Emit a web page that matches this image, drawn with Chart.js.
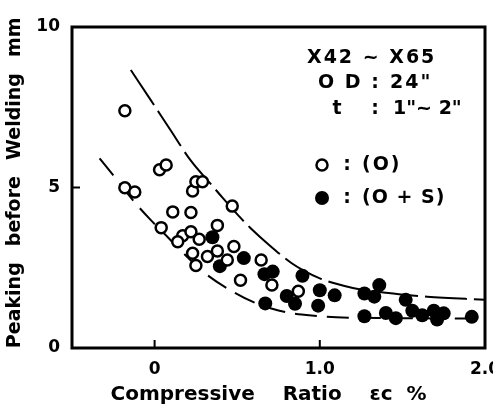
<!DOCTYPE html>
<html lang="en">
<head>
    <meta charset="UTF-8">
    <title>Peaking before Welding vs Compressive Ratio</title>
    <script src="https://cdn.jsdelivr.net/npm/chart.js"></script>
    <style>
        html, body {
            margin: 0;
            padding: 0;
            background: #fff;
            overflow: hidden;
        }
        .chart-box {
            width: 493px;
            height: 417px;
            position: relative;
        }
    </style>
</head>
<body>
    <div class="chart-box">
        <canvas id="peakChart"></canvas>
    </div>

    <script>
        // values
        const openX = [-0.18, -0.18, -0.12, 0.03, 0.07, 0.04, 0.11, 0.22, 0.23, 0.25, 0.29, 0.47, 0.38,
                       0.17, 0.22, 0.27, 0.14, 0.23, 0.32, 0.38, 0.44, 0.48, 0.25, 0.52, 0.645, 0.71, 0.87];
        const openY = [7.39, 4.99, 4.86, 5.55, 5.70, 3.75, 4.24, 4.22, 4.89, 5.18, 5.18, 4.42, 3.82,
                       3.50, 3.62, 3.39, 3.31, 2.95, 2.85, 3.02, 2.74, 3.16, 2.57, 2.11, 2.74, 1.96, 1.77];

        const filledX = [0.35, 0.395, 0.54, 0.665, 0.715, 0.67, 0.80, 0.85, 0.895, 1.00, 1.09, 0.99,
                         1.27, 1.36, 1.33, 1.52, 1.56, 1.27, 1.40, 1.46, 1.62, 1.69, 1.71, 1.75, 1.92];
        const filledY = [3.45, 2.55, 2.80, 2.30, 2.38, 1.39, 1.62, 1.38, 2.25, 1.80, 1.64, 1.32,
                         1.70, 1.96, 1.60, 1.50, 1.16, 0.99, 1.09, 0.93, 1.02, 1.16, 0.89, 1.08, 0.97];

        const upperX = [-0.144, -0.024, 0.096, 0.216, 0.345, 0.415, 0.505, 0.58, 0.70, 0.83, 0.90, 1.00, 1.10, 1.20, 1.40, 1.65, 2.00];
        const upperY = [8.66, 7.73, 6.79, 5.86, 5.08, 4.66, 4.14, 3.74, 3.18, 2.64, 2.42, 2.17, 2.00, 1.87, 1.72, 1.60, 1.50];

        const lowerX = [-0.333, -0.244, -0.124, -0.024, 0.086, 0.156, 0.305, 0.455, 0.615, 0.75, 0.89, 1.10, 1.40, 2.00];
        const lowerY = [5.91, 5.34, 4.56, 3.99, 3.42, 3.05, 2.33, 1.81, 1.39, 1.17, 1.04, 0.96, 0.93, 0.92];

        const xTickValues = [0, 1, 2];
        const xTickLabels = ['0', '1.0', '2.0'];
        const yTickValues = [0, 5, 10];
        const yTickLabels = ['0', '5', '10'];

        const FONT = '"DejaVu Sans", "Liberation Sans", sans-serif';

        const toPoints = (xs, ys) => xs.map((x, i) => ({ x: x, y: ys[i] }));

        // box, inward ticks and the notes in the upper right
        const frameAndNotes = {
            id: 'frameAndNotes',
            afterDraw(chart) {
                const ctx = chart.ctx;
                const area = chart.chartArea;
                const xs = chart.scales.x;
                const ys = chart.scales.y;

                ctx.save();
                ctx.strokeStyle = '#000';
                ctx.lineWidth = 3;
                ctx.strokeRect(area.left, area.top, area.right - area.left, area.bottom - area.top);

                ctx.lineWidth = 2;
                xTickValues.forEach(v => {
                    const px = xs.getPixelForValue(v);
                    ctx.beginPath();
                    ctx.moveTo(px, area.bottom);
                    ctx.lineTo(px, area.bottom - 8);
                    ctx.stroke();
                });
                yTickValues.forEach(v => {
                    const py = ys.getPixelForValue(v);
                    ctx.beginPath();
                    ctx.moveTo(area.left, py);
                    ctx.lineTo(area.left + 8, py);
                    ctx.stroke();
                });

                ctx.fillStyle = '#000';
                ctx.textBaseline = 'middle';
                ctx.font = 'bold 19px ' + FONT;
                ctx.letterSpacing = '2px';
                ctx.textAlign = 'left';
                ctx.fillText('X42 ~ X65', 307, 58);
                ctx.fillText('O D', 318, 83);
                ctx.fillText('24"', 390, 83);
                ctx.letterSpacing = '0px';
                ctx.fillText('1"~ 2"', 393, 109);
                ctx.textAlign = 'center';
                ctx.fillText(':', 375, 83);
                ctx.fillText('t', 337, 109);
                ctx.fillText(':', 375, 109);

                ctx.fillText(':', 347, 165);
                ctx.fillText(':', 347, 198);
                ctx.textAlign = 'left';
                ctx.letterSpacing = '2px';
                ctx.fillText('(O)', 362, 165);
                ctx.letterSpacing = '1px';
                ctx.fillText('(O + S)', 362, 198);

                ctx.lineWidth = 2.5;
                ctx.beginPath();
                ctx.arc(322, 165, 5.5, 0, Math.PI * 2);
                ctx.stroke();
                ctx.beginPath();
                ctx.arc(322, 198, 7, 0, Math.PI * 2);
                ctx.fill();
                ctx.restore();
            }
        };

        const ctx = document.getElementById('peakChart').getContext('2d');
        new Chart(ctx, {
            type: 'scatter',
            data: {
                datasets: [
                    {
                        label: '(O)',
                        data: toPoints(openX, openY),
                        pointRadius: 5.5,
                        borderWidth: 2.5,
                        borderColor: '#000',
                        backgroundColor: '#fff'
                    },
                    {
                        label: '(O+S)',
                        data: toPoints(filledX, filledY),
                        pointRadius: 7,
                        borderWidth: 0,
                        borderColor: '#000',
                        backgroundColor: '#000'
                    },
                    {
                        label: 'upper',
                        data: toPoints(upperX, upperY),
                        showLine: true,
                        pointRadius: 0,
                        borderColor: '#000',
                        borderWidth: 2,
                        borderDash: [42, 7],
                        cubicInterpolationMode: 'monotone'
                    },
                    {
                        label: 'lower',
                        data: toPoints(lowerX, lowerY),
                        showLine: true,
                        pointRadius: 0,
                        borderColor: '#000',
                        borderWidth: 2,
                        borderDash: [22, 10],
                        cubicInterpolationMode: 'monotone'
                    }
                ]
            },
            options: {
                responsive: true,
                maintainAspectRatio: false,
                animation: false,
                layout: {
                    padding: { top: 27, right: 6, left: 0, bottom: 0 }
                },
                plugins: {
                    legend: { display: false },
                    tooltip: { enabled: false }
                },
                scales: {
                    x: {
                        type: 'linear',
                        min: -0.5,
                        max: 2.0,
                        grid: { display: false, drawTicks: false },
                        border: { display: false },
                        afterBuildTicks: scale => {
                            scale.ticks = xTickValues.map(v => ({ value: v }));
                        },
                        afterFit: scale => {
                            scale.height = 69;
                            scale.paddingLeft = 0;
                            scale.paddingRight = 0;
                        },
                        ticks: {
                            padding: 11,
                            color: '#000',
                            font: { family: FONT, size: 17, weight: 'bold' },
                            callback: value => xTickLabels[xTickValues.indexOf(value)]
                        },
                        title: {
                            display: true,
                            text: 'Compressive    Ratio    εc  %\u2002\u2002',
                            color: '#000',
                            font: { family: FONT, size: 20, weight: 'bold' },
                            padding: { top: 0, bottom: 10 }
                        }
                    },
                    y: {
                        type: 'linear',
                        min: 0,
                        max: 10,
                        grid: { display: false, drawTicks: false },
                        border: { display: false },
                        afterBuildTicks: scale => {
                            scale.ticks = yTickValues.map(v => ({ value: v }));
                        },
                        afterFit: scale => {
                            scale.width = 72;
                        },
                        ticks: {
                            padding: 12,
                            color: '#000',
                            font: { family: FONT, size: 17, weight: 'bold' },
                            callback: value => yTickLabels[yTickValues.indexOf(value)]
                        },
                        title: {
                            display: true,
                            text: '\u2002Peaking \u2002before \u2002Welding \u2002mm',
                            color: '#000',
                            font: { family: FONT, size: 19, weight: 'bold' },
                            padding: { top: 4, bottom: 0 }
                        }
                    }
                }
            },
            plugins: [frameAndNotes]
        });
    </script>
</body>
</html>
